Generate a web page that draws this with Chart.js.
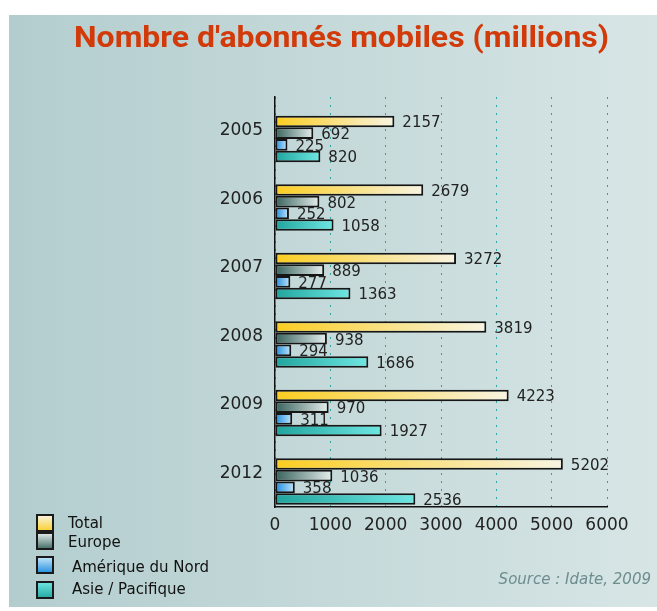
<!DOCTYPE html>
<html>
<head>
<meta charset="utf-8">
<script src="https://cdn.jsdelivr.net/npm/chart.js@4.4.1/dist/chart.umd.min.js"></script>
<style>
  html, body { margin: 0; padding: 0; background: #fff; }
  #wrap { width: 657px; height: 611px; }
</style>
</head>
<body>
<div id="wrap"><canvas id="chart" width="657" height="611"></canvas></div>
<script>
const years = ['2005', '2006', '2007', '2008', '2009', '2012'];
const seriesNames = ['Total', 'Europe', 'Amérique du Nord', 'Asie / Pacifique'];
const totalValues = [2157, 2679, 3272, 3819, 4223, 5202];
const europeValues = [692, 802, 889, 938, 970, 1036];
const northAmericaValues = [225, 252, 277, 294, 311, 358];
const asiaValues = [820, 1058, 1363, 1686, 1927, 2536];
const xTicks = [0, 1000, 2000, 3000, 4000, 5000, 6000];

// gradient stops per series, left -> right along each bar
const gradStops = [
  ['#fbcd20', '#f8f4e2'],
  ['#37625d', '#e6efed'],
  ['#1a8ae0', '#c4e6fa'],
  ['#20a49d', '#6fe7e3']
];

function barGradient(ctx) {
  const chart = ctx.chart;
  const x = chart.scales.x;
  if (!chart.chartArea || !x || ctx.dataIndex === undefined) return gradStops[ctx.datasetIndex][0];
  const v = ctx.raw.x;
  const x0 = x.getPixelForValue(0);
  const x1 = x.getPixelForValue(v);
  const g = chart.ctx.createLinearGradient(x0, 0, x1, 0);
  g.addColorStop(0, gradStops[ctx.datasetIndex][0]);
  g.addColorStop(1, gradStops[ctx.datasetIndex][1]);
  return g;
}

const allSeries = [totalValues, europeValues, northAmericaValues, asiaValues];

// background panel, title, legend, source
const decor = {
  id: 'decor',
  beforeDraw(chart) {
    const c = chart.ctx;
    c.save();
    c.fillStyle = '#fff';
    c.fillRect(0, 0, chart.width, chart.height);
    const g = c.createLinearGradient(9, 0, 657, 0);
    g.addColorStop(0, '#b3cdce');
    g.addColorStop(1, '#d7e5e5');
    c.fillStyle = g;
    c.fillRect(9, 15, 648, 592);

    // title
    c.font = 'bold 29px Roboto';
    c.fillStyle = '#d23a0a';
    c.textBaseline = 'alphabetic';
    const t = "Nombre d'abonnés mobiles (millions)";
    const w = c.measureText(t).width;
    c.translate(74, 47);
    c.scale(535 / w, 1);
    c.fillText(t, 0, 0);
    c.restore();

    // legend
    c.save();
    const rows = [
      { y: 515, tx: 68, ty: 524 },
      { y: 533, tx: 68, ty: 543 },
      { y: 557, tx: 72, ty: 568 },
      { y: 582, tx: 72, ty: 590 }
    ];
    c.font = '15px "DejaVu Sans"';
    c.textBaseline = 'middle';
    rows.forEach((r, i) => {
      const lg = c.createLinearGradient(0, r.y, 0, r.y + 17);
      lg.addColorStop(0, gradStops[i][1]);
      lg.addColorStop(1, gradStops[i][0]);
      c.fillStyle = lg;
      c.fillRect(37, r.y, 16, 16);
      c.strokeStyle = '#1a1a1a';
      c.lineWidth = 2;
      c.strokeRect(37, r.y, 16, 16);
      c.fillStyle = '#111';
      c.fillText(seriesNames[i], r.tx, r.ty);
    });

    c.font = 'italic 15px "DejaVu Sans"';
    c.fillStyle = '#6d8d8f';
    c.textAlign = 'right';
    c.fillText('Source : Idate, 2009', 651, 580);
    c.restore();
  },
  // value labels go under the bars, like the original
  beforeDatasetsDraw(chart) {
    const c = chart.ctx;
    c.save();
    c.font = '15px "DejaVu Sans"';
    c.fillStyle = '#222';
    c.textBaseline = 'middle';
    chart.data.datasets.forEach((ds, di) => {
      chart.getDatasetMeta(di).data.forEach((bar, i) => {
        c.fillText(String(ds.data[i].x), bar.x + 8, bar.y + 2);
      });
    });
    c.restore();
  }
};

new Chart(document.getElementById('chart'), {
  type: 'bar',
  plugins: [decor],
  data: {
    datasets: allSeries.map((vals, i) => ({
      label: seriesNames[i],
      data: vals.map((v, k) => ({ x: v, y: k })),
      backgroundColor: barGradient,
      borderColor: '#161616',
      borderWidth: 2,
      borderSkipped: false,
      categoryPercentage: 0.68,
      barPercentage: 1
    }))
  },
  options: {
    indexAxis: 'y',
    responsive: false,
    animation: false,
    layout: { padding: { left: 200, right: 50, top: 97, bottom: 74 } },
    plugins: {
      legend: { display: false },
      title: { display: false },
      tooltip: { enabled: false }
    },
    scales: {
      x: {
        type: 'linear',
        min: 0,
        max: 6000,
        afterBuildTicks: s => { s.ticks = xTicks.map(v => ({ value: v })); },
        grid: {
          color: '#2aa5a5',
          lineWidth: 1,
          drawTicks: false
        },
        border: { color: '#111', width: 1.5, dash: [2, 6] },
        ticks: {
          color: '#222',
          font: { family: 'DejaVu Sans', size: 17 },
          padding: 8,
          callback: v => String(v)
        },
        afterFit: s => { s.height = 30; }
      },
      y: {
        type: 'linear',
        reverse: true,
        offset: false,
        grace: 0,
        min: -0.613,
        max: 5.372,
        afterBuildTicks: s => { s.ticks = years.map((y, k) => ({ value: k })); },
        grid: { display: false, drawTicks: false, offset: false },
        border: { color: '#111', width: 1.5 },
        ticks: {
          color: '#222',
          font: { family: 'DejaVu Sans', size: 17 },
          padding: 12,
          labelOffset: -8,
          callback: v => years[v]
        },
        afterFit: s => { s.width = 75; }
      }
    }
  }
});
</script>
</body>
</html>
